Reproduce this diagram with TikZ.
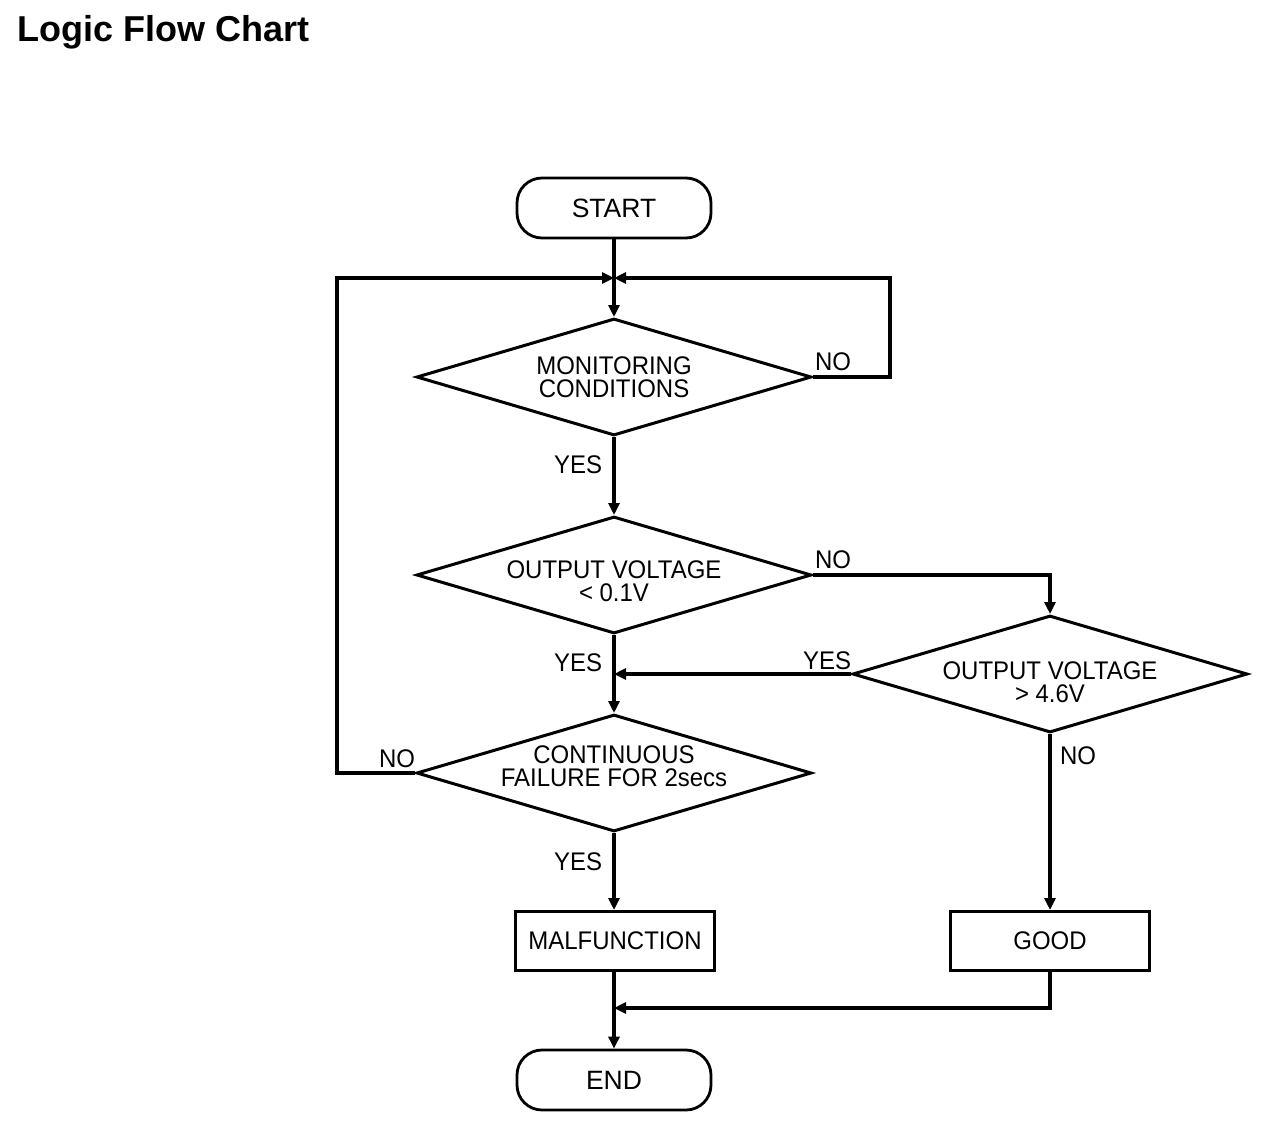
\documentclass[tikz,border=0pt]{standalone}
\usepackage{fontspec}
\setmainfont{Liberation Sans}
\newfontfamily\labelfont{Liberation Sans}[FakeStretch=0.94]
\usetikzlibrary{shapes.geometric,arrows.meta}
\tikzset{
  lbl/.style={inner sep=0pt, font=\labelfont\fontsize{25.5}{23}\selectfont},
  dtext/.style={inner sep=0pt, align=center, font=\labelfont\fontsize{25.5}{23.5}\selectfont},
  dia/.style={shape=diamond, draw, line width=3pt, minimum width=395pt, minimum height=117pt, inner sep=0pt},
  term/.style={shape=rectangle, draw, line width=2.8pt, rounded corners=25pt, minimum width=194pt, minimum height=60pt, inner sep=0pt, font=\fontsize{26.5}{23}\selectfont},
  procbox/.style={shape=rectangle, draw, line width=3pt, minimum width=199pt, minimum height=59pt, inner sep=0pt, font=\labelfont\fontsize{25.5}{23}\selectfont},
  conn/.style={line width=3.3pt, -{Triangle[length=12pt,width=11pt]}}
}
\begin{document}
\begin{tikzpicture}[x=1pt,y=1pt]
\useasboundingbox (0,0) rectangle (1280,-1138);
\node[anchor=base west, inner sep=0pt, font=\bfseries\fontsize{36}{40}\selectfont] (title) at (17,-41) {Logic Flow Chart};

\node[term] (start) at (614,-208) {START};
\node[dia] (d1) at (614,-377) {};
\node[dtext] (d1t) at (614,-377) {MONITORING\\CONDITIONS};
\node[dia] (d2) at (614,-575) {};
\node[dtext] (d2t) at (614,-581) {OUTPUT VOLTAGE\\< 0.1V};
\node[dia] (d3) at (1050,-674) {};
\node[dtext] (d3t) at (1050,-682) {OUTPUT VOLTAGE\\> 4.6V};
\node[dia] (d4) at (614,-773) {};
\node[dtext] (d4t) at (614,-766) {CONTINUOUS\\FAILURE FOR 2secs};
\node[procbox] (mal) at (615,-941) {MALFUNCTION};
\node[procbox] (good) at (1050,-941) {GOOD};
\node[term] (end) at (614,-1080) {END};

\coordinate (j) at (614,-278);
\coordinate (cR) at (890,-278);
\coordinate (cL) at (337,-278);
\coordinate (k) at (614,-674);
\coordinate (m) at (614,-1008);

\draw[conn] (start) -- (d1);
\draw[conn] (d1.east) -| (cR) -- (j);
\draw[conn] (d1) -- (d2);
\draw[conn] (d2.east) -| (d3.north);
\draw[conn] (d3.west) -- (k);
\draw[conn] (d2) -- (d4);
\draw[conn] (d4.west) -| (cL) -- (j);
\draw[conn] (d4.south) -- (d4.south |- mal.north);
\draw[conn] (d3) -- (good);
\draw[conn] (mal.south -| end.north) -- (end.north);
\draw[conn] (good.south) |- (m);

\node[lbl] (n1) at (833,-362) {NO};
\node[lbl] (y1) at (578,-465) {YES};
\node[lbl] (n2) at (833,-560) {NO};
\node[lbl] (y2) at (578,-663) {YES};
\node[lbl] (y3) at (827,-661) {YES};
\node[lbl] (n4) at (397,-759) {NO};
\node[lbl] (y4) at (578,-862) {YES};
\node[lbl] (n3) at (1078,-756) {NO};
\end{tikzpicture}
\end{document}
